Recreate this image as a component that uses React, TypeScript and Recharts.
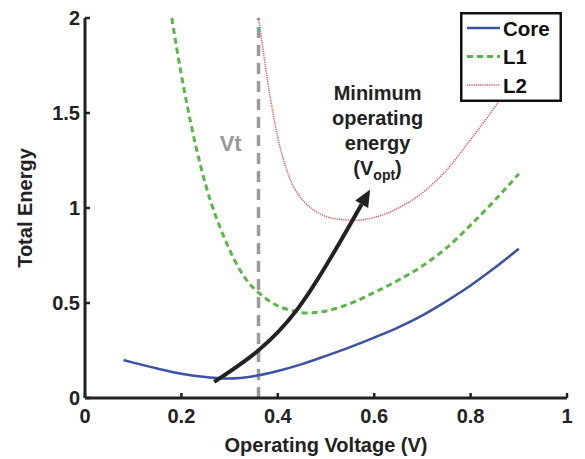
import React from 'react';
import { LineChart, Line, XAxis, YAxis, ReferenceLine, ReferenceDot, Legend } from 'recharts';

const FONT = '"Liberation Sans", Arial, Helvetica, sans-serif';
const INK = '#222';

// axis ticks
const voltTicks = [0, 0.2, 0.4, 0.6, 0.8, 1];
const energyTicks = [0, 0.5, 1, 1.5, 2];

// Core
const coreVolt = [0.08, 0.1, 0.15, 0.2, 0.25, 0.28, 0.3, 0.35, 0.4, 0.45, 0.5, 0.55, 0.6, 0.65, 0.7, 0.75, 0.8, 0.85, 0.9];
const coreEnergy = [0.2, 0.186, 0.155, 0.128, 0.11, 0.104, 0.103, 0.115, 0.142, 0.178, 0.222, 0.268, 0.318, 0.372, 0.435, 0.51, 0.592, 0.685, 0.785];

// L1
const l1Volt = [0.18, 0.2, 0.22, 0.24, 0.26, 0.28, 0.3, 0.32, 0.34, 0.36, 0.38, 0.4, 0.43, 0.46, 0.5, 0.55, 0.6, 0.65, 0.7, 0.75, 0.8, 0.85, 0.9];
const l1Energy = [2.0, 1.7, 1.44, 1.22, 1.04, 0.9, 0.78, 0.68, 0.605, 0.555, 0.515, 0.485, 0.46, 0.447, 0.458, 0.497, 0.555, 0.62, 0.695, 0.79, 0.91, 1.04, 1.18];

// L2
const l2Volt = [0.36, 0.37, 0.38, 0.39, 0.4, 0.41, 0.42, 0.43, 0.44, 0.46, 0.48, 0.5, 0.53, 0.56, 0.6, 0.65, 0.7, 0.75, 0.8, 0.85, 0.9];
const l2Energy = [2.0, 1.82, 1.65, 1.5, 1.37, 1.27, 1.19, 1.125, 1.08, 1.02, 0.98, 0.955, 0.94, 0.935, 0.95, 1.0, 1.08, 1.2, 1.36, 1.53, 1.71];

// arrow towards V_opt
const arrowVolt = [0.268, 0.357, 0.44, 0.515, 0.574];
const arrowEnergy = [0.085, 0.245, 0.465, 0.76, 1.02];

// threshold voltage
const vtVolt = 0.36;

const annotationLines = ['Minimum', 'operating', 'energy'];

const toRows = (xs: number[], ys: number[]) => xs.map((v, i) => ({ v, e: ys[i] }));

const series = [
  { name: 'Core', data: toRows(coreVolt, coreEnergy), color: '#3b52a6', width: 2.5, dash: undefined as string | undefined },
  { name: 'L1', data: toRows(l1Volt, l1Energy), color: '#55b944', width: 3, dash: '6 4' },
  { name: 'L2', data: toRows(l2Volt, l2Energy), color: '#e2525e', width: 1.5, dash: '1.2 1' },
];

let prevPt: { x: number; y: number } | null = null;
const ArrowHead = (props: any) => {
  const { cx, cy, index, points } = props;
  const prev = points && index > 0 ? points[index - 1] : prevPt;
  prevPt = { x: cx, y: cy };
  if (index !== arrowVolt.length - 1 || !prev) return <g key={`a-${index}`} />;
  const dx = cx - prev.x;
  const dy = cy - prev.y;
  const len = Math.sqrt(dx * dx + dy * dy) || 1;
  const ux = dx / len, uy = dy / len;
  const L = 17, W = 15;
  const tip = [cx + ux * L, cy + uy * L];
  const b1 = [cx - uy * W / 2, cy + ux * W / 2];
  const b2 = [cx + uy * W / 2, cy - ux * W / 2];
  return (
    <polygon key={`a-${index}`} points={`${tip[0]},${tip[1]} ${b1[0]},${b1[1]} ${b2[0]},${b2[1]}`} fill={INK} />
  );
};

const LegendBox = () => (
  <svg width={102} height={90} style={{ display: 'block' }}>
    <rect x={1.25} y={1.25} width={99.5} height={87.5} fill="#fff" stroke="#111" strokeWidth={2.5} />
    {series.map((s, i) => {
      const y = 16 + i * 28.5;
      return (
        <g key={s.name}>
          <line x1={7} x2={40} y1={y} y2={y} stroke={s.color} strokeWidth={s.width} strokeDasharray={s.dash} />
          <text x={43} y={y + 7.5} fontFamily={FONT} fontWeight="bold" fontSize={20.5} fill="#111">{s.name}</text>
        </g>
      );
    })}
  </svg>
);

const VtLabel = (props: any) => {
  const { x, y } = props.viewBox;
  return (
    <text x={x} y={y} textAnchor="end" fontFamily={FONT} fontWeight="bold" fontSize={22} fill="#999">Vt</text>
  );
};

const OptLabel = (props: any) => {
  const { x, y } = props.viewBox;
  return (
    <text x={x} y={y} textAnchor="middle" fontFamily={FONT} fontWeight="bold" fontSize={20} fill={INK}>
      {annotationLines.map((t, i) => (
        <tspan key={t} x={x} y={y + i * 25}>{t}</tspan>
      ))}
      <tspan x={x} y={y + 75}>(V</tspan>
      <tspan fontSize={14} dy={5}>opt</tspan>
      <tspan dy={-5}>)</tspan>
    </text>
  );
};

const tickStyle = { fill: INK, fontSize: 20, fontWeight: 'bold', fontFamily: FONT };

export default function App() {
  return (
    <div style={{ position: 'absolute', left: 0, top: 0, width: 585, height: 459, background: '#fff' }}>
      <LineChart width={585} height={459} margin={{ top: 18, right: 18, left: 5, bottom: 0 }}>
        <XAxis
          dataKey="v"
          type="number"
          domain={[0, 1]}
          ticks={voltTicks}
          allowDuplicatedCategory={false}
          height={61}
          stroke={INK}
          strokeWidth={3}
          tickSize={-5}
          tickMargin={16}
          tickLine={{ stroke: INK, strokeWidth: 2.5 }}
          tick={tickStyle}
          label={{ value: 'Operating Voltage (V)', position: 'insideBottom', offset: 7, fill: INK, fontSize: 20, fontWeight: 'bold', fontFamily: FONT }}
        />
        <YAxis
          dataKey="e"
          type="number"
          domain={[0, 2]}
          ticks={energyTicks}
          width={80}
          stroke={INK}
          strokeWidth={3}
          tickSize={-5}
          tickMargin={10}
          tickLine={{ stroke: INK, strokeWidth: 2.5 }}
          tick={tickStyle}
          label={{ value: 'Total Energy', angle: -90, position: 'insideLeft', offset: 20, fill: INK, fontSize: 20, fontWeight: 'bold', fontFamily: FONT, style: { textAnchor: 'middle' } }}
        />
        <ReferenceLine x={vtVolt} stroke="#9b9b9b" strokeWidth={3.5} strokeDasharray="11 7" />
        {series.map((s) => (
          <Line
            key={s.name}
            name={s.name}
            data={s.data}
            dataKey="e"
            type="monotone"
            stroke={s.color}
            strokeWidth={s.width}
            strokeDasharray={s.dash}
            dot={false}
            isAnimationActive={false}
          />
        ))}
        <Line
          name="arrow"
          legendType="none"
          data={toRows(arrowVolt, arrowEnergy)}
          dataKey="e"
          type="natural"
          stroke={INK}
          strokeWidth={4}
          dot={ArrowHead}
          activeDot={false}
          isAnimationActive={false}
        />
        <ReferenceDot x={0.325} y={1.3} r={0} fill="none" stroke="none" label={VtLabel} />
        <ReferenceDot x={0.607} y={1.57} r={0} fill="none" stroke="none" label={OptLabel} />
        <Legend
          layout="vertical"
          align="center"
          verticalAlign="middle"
          content={LegendBox}
          wrapperStyle={{ position: 'absolute', left: 460, top: 12, width: 102, height: 90 }}
        />
      </LineChart>
    </div>
  );
}
